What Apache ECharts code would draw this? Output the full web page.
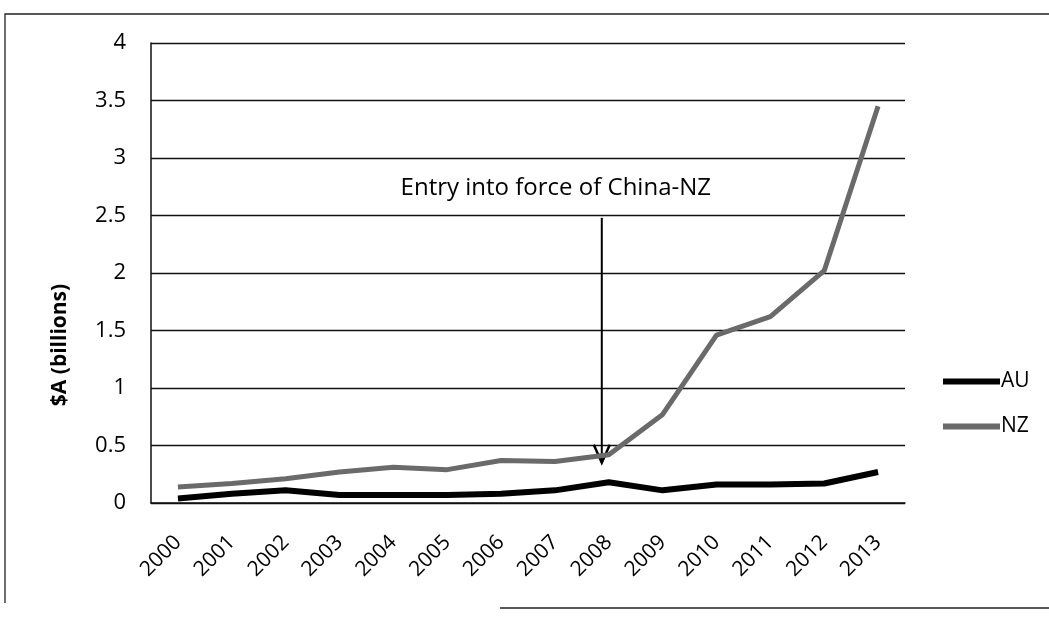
<!DOCTYPE html>
<html>
<head>
<meta charset="utf-8">
<script src="https://cdn.jsdelivr.net/npm/echarts@6/dist/echarts.min.js"></script>
<style>
  html, body { margin: 0; padding: 0; background: #fff; }
  #chart { width: 1049px; height: 617px; }
</style>
</head>
<body>
<div id="chart"></div>
<script>
// data
var years = ['2000', '2001', '2002', '2003', '2004', '2005', '2006', '2007',
             '2008', '2009', '2010', '2011', '2012', '2013'];
var auValues = [0.04, 0.08, 0.11, 0.07, 0.07, 0.07, 0.08, 0.11, 0.18, 0.11, 0.16, 0.16, 0.17, 0.27];
var nzValues = [0.14, 0.17, 0.21, 0.27, 0.31, 0.29, 0.37, 0.36, 0.42, 0.77, 1.46, 1.62, 2.02, 3.45];
var noteYear = '2008';
var noteTop = 2.48;
var noteTip = 0.35;
var noteText = 'Entry into force of China-NZ';
var yTitle = '$A (billions)';

var font = '"Open Sans", Lato, sans-serif';
var chart = echarts.init(document.getElementById('chart'));

var option = {
    animation: false,
    backgroundColor: '#fff',
    textStyle: { fontFamily: font },
    grid: { left: 151, right: 144, top: 43, bottom: 114 },
    legend: {
        orient: 'vertical',
        left: 938,
        top: 366,
        itemGap: 24,
        itemWidth: 57,
        itemHeight: 6,
        icon: 'rect',
        textStyle: { fontSize: 21, color: '#000', fontFamily: font, padding: [0, 0, 0, -4] },
        data: ['AU', 'NZ']
    },
    xAxis: {
        type: 'category',
        data: years,
        boundaryGap: true,
        axisLine: { lineStyle: { color: '#111', width: 1.5 } },
        axisTick: { show: false },
        axisLabel: { rotate: 45, fontSize: 21, color: '#000', margin: 36, interval: 0 }
    },
    yAxis: {
        type: 'value',
        min: 0,
        max: 4,
        interval: 0.5,
        axisLine: { show: true, lineStyle: { color: '#111', width: 1.5 } },
        axisTick: { show: false },
        splitLine: { lineStyle: { color: '#111', width: 1.3 } },
        axisLabel: { fontSize: 22, color: '#000', margin: 25 }
    },
    series: [
        {
            name: 'AU',
            type: 'line',
            data: auValues,
            symbol: 'none',
            color: '#000',
            lineStyle: { width: 6, color: '#000' },
            z: 3
        },
        {
            name: 'NZ',
            type: 'line',
            data: nzValues,
            symbol: 'none',
            color: '#6a6a6a',
            lineStyle: { width: 5, color: '#6a6a6a' },
            z: 2
        }
    ]
};
chart.setOption(option);

// annotation arrow and text placed from the axis scales, plus the outer frame
var top_ = chart.convertToPixel({ gridIndex: 0 }, [noteYear, noteTop]);
var tip = chart.convertToPixel({ gridIndex: 0 }, [noteYear, noteTip]);
var ax = top_[0] - 7;
chart.setOption({
    graphic: [
        {
            type: 'text',
            x: 60,
            y: 345,
            rotation: Math.PI / 2,
            style: {
                text: yTitle, fill: '#000', font: 'bold 21px ' + font,
                align: 'center', verticalAlign: 'middle'
            }
        },
        {
            type: 'text',
            x: ax - 46,
            y: top_[1] - 30,
            style: {
                text: noteText, fill: '#000', font: '24px ' + font,
                align: 'center', verticalAlign: 'middle'
            }
        },
        {
            type: 'line',
            silent: true,
            shape: { x1: ax, y1: top_[1], x2: ax, y2: tip[1] },
            style: { stroke: '#000', lineWidth: 2 }
        },
        {
            type: 'polyline',
            silent: true,
            shape: { points: [[ax - 8, tip[1] - 18], [ax, tip[1]], [ax + 8, tip[1] - 18]] },
            style: { stroke: '#000', lineWidth: 2.5, fill: null }
        },
        {
            type: 'polyline',
            silent: true,
            shape: { points: [[1049, 14], [5, 14], [5, 603]] },
            style: { stroke: '#222', lineWidth: 1.3, fill: null }
        },
        {
            type: 'line',
            silent: true,
            shape: { x1: 500, y1: 608, x2: 1049, y2: 608 },
            style: { stroke: '#222', lineWidth: 1.3 }
        }
    ]
});
</script>
</body>
</html>
